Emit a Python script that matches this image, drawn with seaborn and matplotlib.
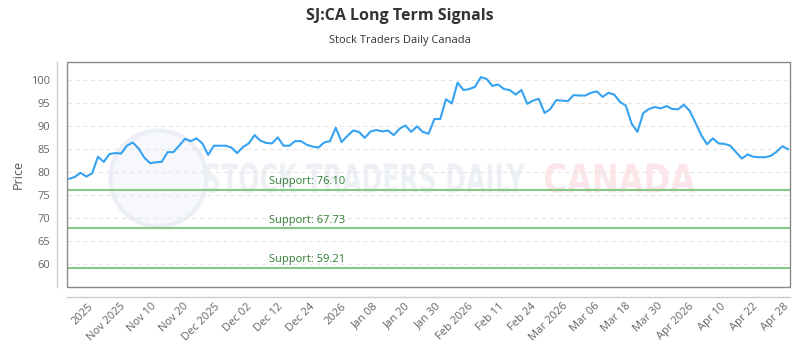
import numpy as np
import pandas as pd
import seaborn as sns
import matplotlib.pyplot as plt
from matplotlib.patches import Rectangle, Ellipse, PathPatch
from matplotlib.textpath import TextPath
from matplotlib.font_manager import FontProperties
from matplotlib.transforms import Affine2D, IdentityTransform

# daily closes
prices = [
    78.5, 78.9, 79.8, 79.0, 79.7, 83.3, 82.2, 83.9, 84.1, 84.0,
    85.7, 86.4, 85.1, 83.1, 81.9, 82.1, 82.2, 84.3, 84.3, 85.7,
    87.2, 86.7, 87.3, 86.2, 83.7, 85.7, 85.7, 85.7, 85.3, 84.1,
    85.4, 86.2, 88.0, 86.8, 86.3, 86.2, 87.5, 85.7, 85.7, 86.7,
    86.7, 85.9, 85.5, 85.3, 86.4, 86.7, 89.6, 86.5, 87.8, 89.0,
    88.7, 87.4, 88.8, 89.1, 88.8, 89.0, 88.0, 89.4, 90.1, 88.7,
    89.9, 88.7, 88.3, 91.5, 91.5, 95.8, 94.9, 99.4, 97.8, 98.0,
    98.5, 100.6, 100.2, 98.7, 99.0, 98.0, 97.8, 96.8, 97.8, 94.8,
    95.5, 95.9, 92.8, 93.7, 95.6, 95.5, 95.4, 96.7, 96.6, 96.6,
    97.2, 97.5, 96.3, 97.2, 96.8, 95.2, 94.4, 90.5, 88.7, 92.8,
    93.7, 94.1, 93.8, 94.3, 93.7, 93.6, 94.6, 93.3, 90.7, 88.0,
    86.0, 87.3, 86.2, 86.1, 85.7, 84.3, 82.9, 83.8, 83.3, 83.2,
    83.2, 83.5, 84.4, 85.6, 84.9,
]
support_levels = [76.10, 67.73, 59.21]
tick_labels = [
    "2025", "Nov 2025", "Nov 10", "Nov 20", "Dec 2025", "Dec 02", "Dec 12",
    "Dec 24", "2026", "Jan 08", "Jan 20", "Jan 30", "Feb 2026", "Feb 11",
    "Feb 24", "Mar 2026", "Mar 06", "Mar 18", "Mar 30", "Apr 2026",
    "Apr 10", "Apr 22", "Apr 28",
]

df = pd.DataFrame({"day": np.arange(len(prices)), "price": prices})

sns.set_style("white")
plt.rcParams["font.family"] = ["Open Sans", "DejaVu Sans"]

fig = plt.figure(figsize=(8, 3.5), dpi=100)
ax = fig.add_axes([0.084, 0.18, 0.9035, 0.643])
ax.set_facecolor("none")
ax.set_zorder(2)


def watermark(text, x0, x1, yc, h, color):
    # stretch the text to the box it fills in the reference (pixels, y from bottom)
    tp = TextPath((0, 0), text, size=1, prop=FontProperties(family="DejaVu Sans", weight="bold"))
    ext = tp.get_extents()
    sx = (x1 - x0) / ext.width
    sy = h / ext.height
    tr = Affine2D().translate(-ext.x0, -ext.y0).scale(sx, sy).translate(x0, yc - h / 2)
    fig.patches.append(PathPatch(tr.transform_path(tp), transform=IdentityTransform(),
                                 facecolor=color, edgecolor="none", zorder=0))


fig.patches.append(Ellipse((0.198, 0.49), 96 / 800, 96 / 350, transform=fig.transFigure,
                           facecolor="#f6f8fb", edgecolor="#ebeef5", lw=3, zorder=0))
watermark("STOCK TRADERS DAILY", 205, 525, 350 - 178, 30, "#edf0f5")
watermark("CANADA", 545, 695, 350 - 178, 30, "#fde6e9")

# plot frame plus offset axis lines (set before ticks: moving spines resets them)
for side in ["top", "right"]:
    ax.spines[side].set_visible(False)
for side in ["left", "bottom"]:
    ax.spines[side].set_position(("outward", 7))
    ax.spines[side].set_color("#cccccc")
    ax.spines[side].set_linewidth(1)
ax.add_patch(Rectangle((0, 0), 1, 1, transform=ax.transAxes, fill=False,
                       edgecolor="#8a8a8a", lw=1, zorder=5, clip_on=False))

for y in range(60, 101, 5):
    ax.axhline(y, color="#e6e6e6", lw=0.8, ls=(0, (4, 3)), zorder=1)

sns.lineplot(data=df, x="day", y="price", ax=ax, color="#35a2f2", lw=1.5, zorder=3)

for lvl in support_levels:
    ax.axhline(lvl, color="#86c987", lw=1.5, zorder=2)
    ax.text(34.5, lvl + 0.6, f"Support: {lvl:.2f}", color="#2e7d32", fontsize=8,
            va="bottom", ha="left", zorder=4)

ax.set_xlim(-0.3, len(prices) - 0.7)
ax.set_ylim(55, 103.9)
ax.set_yticks(range(60, 101, 5))
ax.set_xticks(np.linspace(3.3, 123.2, len(tick_labels)))
ax.set_xticklabels(tick_labels)
ax.tick_params(axis="both", length=0, labelcolor="#666666", labelsize=8)
ax.tick_params(axis="x", pad=3, labelrotation=45)
ax.tick_params(axis="y", pad=5)
plt.setp(ax.get_xticklabels(), ha="right", rotation_mode="anchor")
ax.set_xlabel("")
ax.set_ylabel("Price", color="#555555", fontsize=9, labelpad=5)

fig.text(0.5, 0.955, "SJ:CA Long Term Signals", ha="center", va="center",
         fontsize=11.5, fontweight="bold", color="#333333")
fig.text(0.5, 0.885, "Stock Traders Daily Canada", ha="center", va="center",
         fontsize=8, color="#333333")

plt.savefig("out.png", dpi=100)
